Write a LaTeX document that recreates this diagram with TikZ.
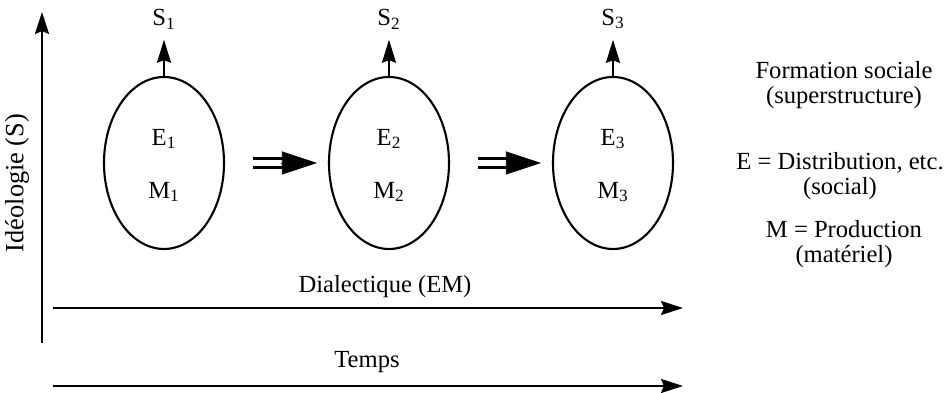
\documentclass[tikz,border=0pt]{standalone}
\usepackage{fontspec}
\setmainfont{Liberation Serif}
\usetikzlibrary{arrows.meta,shapes.geometric,positioning}

\begin{document}
\begin{tikzpicture}[font=\fontsize{14}{14.2}\selectfont,
    formation/.style={ellipse,draw,line width=1.2pt,minimum width=2.4cm,minimum height=3.44cm,inner sep=0pt},
    axe/.style={line width=1.4pt,-{Stealth[length=4.4mm,width=2.8mm,inset=0.6mm]}},
    monte/.style={line width=1pt,shorten >=0.09cm,-{Stealth[length=4.6mm,width=2.8mm,inset=0.5mm]}},
    ]
    \useasboundingbox (0,0) rectangle (18.98,7.86);

    % 坐标轴
    \coordinate (o) at (0.84,1.0); \coordinate (haut) at (0.84,7.62);
    \draw[axe] (o) -- (haut);
    \node[rotate=90,font=\fontsize{15}{16}\selectfont] (ideo) at (0.34,4.2) {Idéologie (S)};

    \coordinate (d0) at (1.06,1.7); \coordinate (d1) at (13.66,1.7);
    \draw[axe] (d0) -- (d1);
    \node (dial) at (7.7,2.12) {Dialectique (EM)};

    \coordinate (t0) at (1.06,0.14); \coordinate (t1) at (13.66,0.14);
    \draw[axe] (t0) -- (t1);
    \node (temps) at (7.34,0.62) {Temps};

    % 三个社会形态
    \foreach \i/\x in {1/3.28,2/7.78,3/12.26} {
        \node[formation] (f\i) at (\x,4.6) {};
        \node (e\i) at (\x,5.08) {E\textsubscript{\i}};
        \node (m\i) at (\x,4.02) {M\textsubscript{\i}};
        \node (s\i) at (\x,7.48) {S\textsubscript{\i}};
        \draw[monte] (f\i.north) -- (s\i.south);
    }

    % 双线箭头
    \foreach \a/\b in {1/2,2/3} {
        \draw[line width=1.5pt,double distance=1.2mm,shorten <=0.56cm,shorten >=0.9cm] (f\a) -- (f\b);
        \draw[-{Triangle[length=7mm,width=4.6mm]},shorten <=1.12cm,shorten >=0.22cm] (f\a) -- (f\b);
    }

    % 图例
    \node[align=center] (fs) at (16.88,6.15) {Formation sociale\\(superstructure)};
    \node[align=center] (le) at (16.8,4.33) {E = Distribution, etc.\\(social)};
    \node[align=center] (lm) at (16.88,2.98) {M = Production\\(matériel)};
\end{tikzpicture}
\end{document}
